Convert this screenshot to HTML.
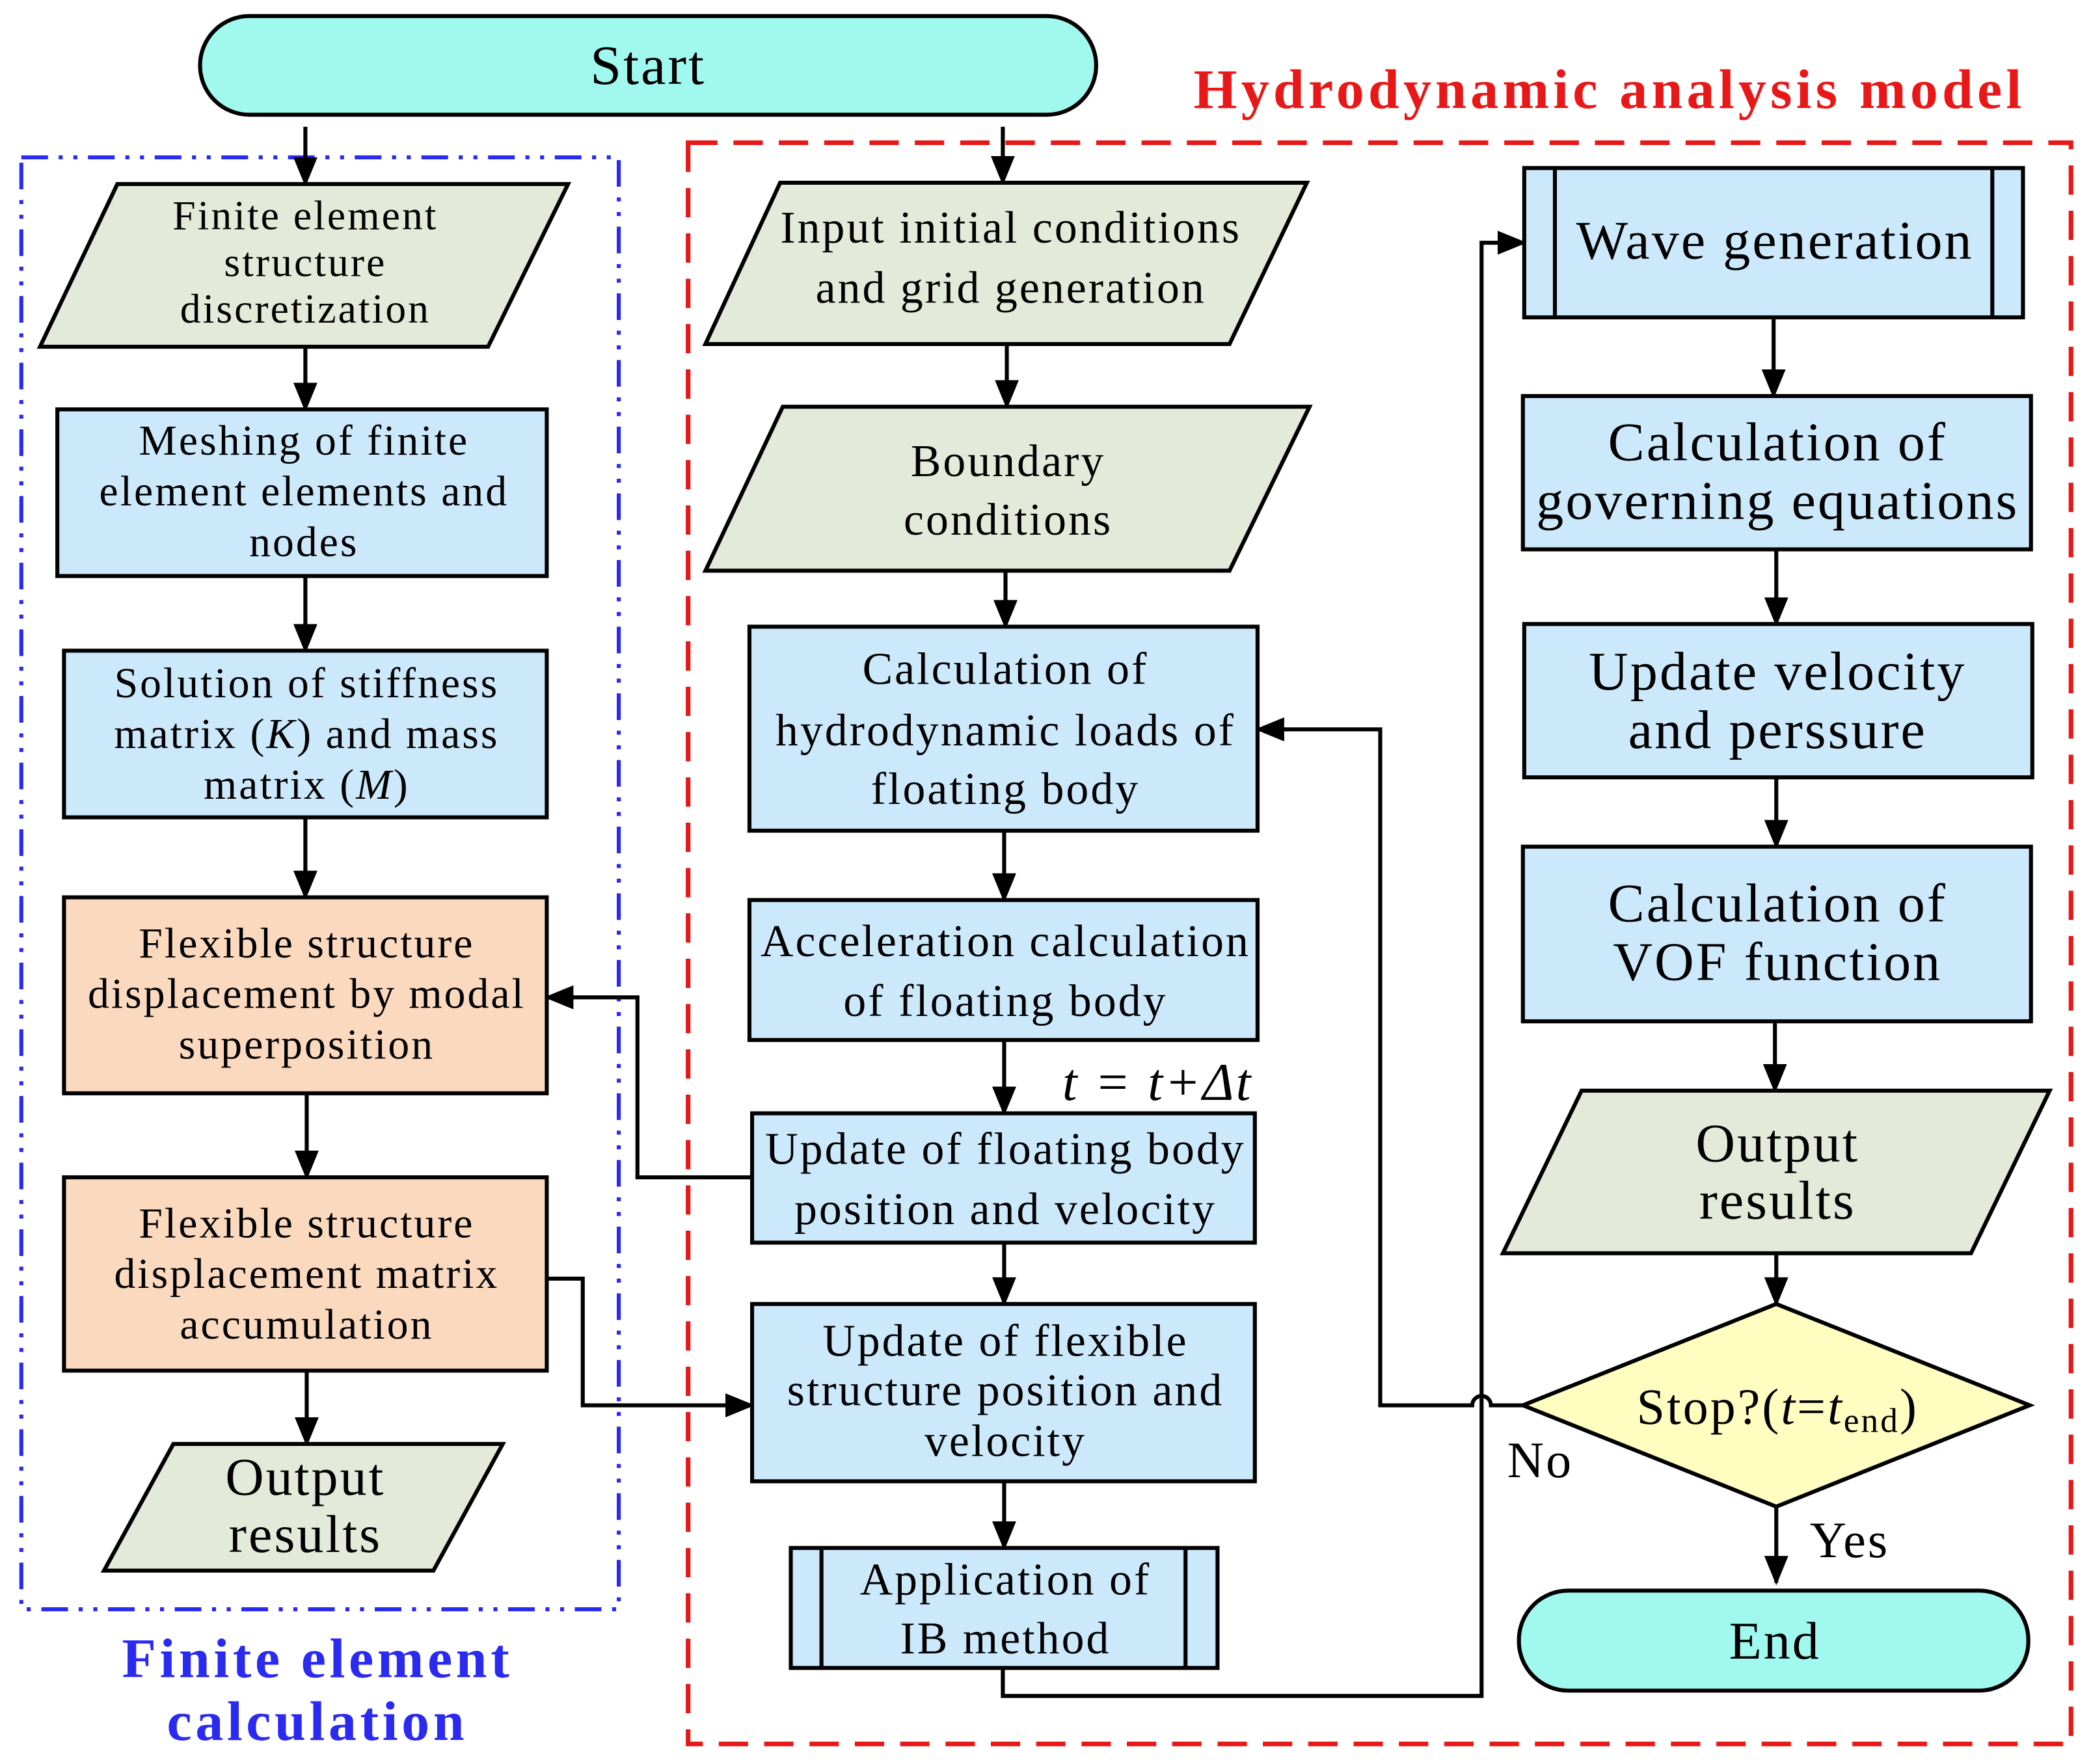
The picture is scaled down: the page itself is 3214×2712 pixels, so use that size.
<!DOCTYPE html>
<html><head><meta charset="utf-8"><style>
html,body{margin:0;padding:0;background:#fff;}
svg{display:block;}
text{font-family:"Liberation Serif",serif;fill:#000;letter-spacing:1.5px;}
</style></head><body>
<svg width="3214" height="2712" viewBox="0 0 1568 1323" xmlns="http://www.w3.org/2000/svg">
<defs>
<marker id="ah2" markerWidth="22" markerHeight="22" refX="20" refY="11" orient="auto" markerUnits="userSpaceOnUse" viewBox="0 0 22 22">
<path d="M0,2 L22,11 L0,20 z" fill="#000"/>
</marker>
</defs>
<rect width="1568" height="1323" fill="#fff"/>

<rect x="16" y="118" width="448" height="1089" fill="none" stroke="#2a2af0" stroke-width="3" stroke-dasharray="20,8,3,8,3,8"/>
<rect x="516" y="107" width="1037" height="1201" fill="none" stroke="#e81818" stroke-width="3.5" stroke-dasharray="22,12"/>
<text x="1207" y="81" font-size="42" font-weight="bold" text-anchor="middle" style="fill:#e81818;letter-spacing:3px">Hydrodynamic analysis model</text>
<text x="238" y="1258" font-size="42" font-weight="bold" text-anchor="middle" style="fill:#2a2af0;letter-spacing:2.7px">Finite element</text>
<text x="238" y="1305" font-size="42" font-weight="bold" text-anchor="middle" style="fill:#2a2af0;letter-spacing:2.7px">calculation</text>

<rect x="150" y="12" width="672" height="74" rx="37" fill="#a0f8ee" stroke="#000" stroke-width="3"/>
<text x="486" y="63" font-size="42" text-anchor="middle">Start</text>

<g stroke="#000" stroke-width="3" fill="none">
<line x1="229" y1="95" x2="229" y2="138" marker-end="url(#ah2)"/>
<line x1="229" y1="260" x2="229" y2="307" marker-end="url(#ah2)"/>
<line x1="229" y1="432" x2="229" y2="488" marker-end="url(#ah2)"/>
<line x1="229" y1="613" x2="229" y2="673" marker-end="url(#ah2)"/>
<line x1="230" y1="820" x2="230" y2="883" marker-end="url(#ah2)"/>
<line x1="230" y1="1028" x2="230" y2="1083" marker-end="url(#ah2)"/>
<line x1="752" y1="95" x2="752" y2="137" marker-end="url(#ah2)"/>
<line x1="755" y1="258" x2="755" y2="305" marker-end="url(#ah2)"/>
<line x1="754" y1="428" x2="754" y2="470" marker-end="url(#ah2)"/>
<line x1="753" y1="623" x2="753" y2="675" marker-end="url(#ah2)"/>
<line x1="753" y1="780" x2="753" y2="835" marker-end="url(#ah2)"/>
<line x1="753" y1="932" x2="753" y2="978" marker-end="url(#ah2)"/>
<line x1="753" y1="1111" x2="753" y2="1161" marker-end="url(#ah2)"/>
<polyline points="752,1251 752,1272 1111,1272 1111,182 1143,182" marker-end="url(#ah2)"/>
<line x1="1330" y1="238" x2="1330" y2="297" marker-end="url(#ah2)"/>
<line x1="1332" y1="412" x2="1332" y2="468" marker-end="url(#ah2)"/>
<line x1="1332" y1="583" x2="1332" y2="635" marker-end="url(#ah2)"/>
<line x1="1331" y1="766" x2="1331" y2="818" marker-end="url(#ah2)"/>
<line x1="1332" y1="940" x2="1332" y2="978" marker-end="url(#ah2)"/>
<line x1="1332" y1="1130" x2="1332" y2="1187" marker-end="url(#ah2)"/>
<path d="M1142,1054 L1118,1054 A7,7 0 0 0 1104,1054 L1035,1054 L1035,547 L943,547" marker-end="url(#ah2)"/>
<polyline points="564,883 478,883 478,748 410,748" marker-end="url(#ah2)"/>
<polyline points="410,959 437,959 437,1054 564,1054" marker-end="url(#ah2)"/>
</g>

<polygon points="88,138 426,138 366,260 30,260" fill="#e3ead9" stroke="#000" stroke-width="3"/>
<g font-size="31" text-anchor="middle">
<text x="229" y="172">Finite element</text>
<text x="229" y="207">structure</text>
<text x="229" y="242">discretization</text>
</g>
<rect x="43" y="307" width="367" height="125" fill="#cce9fb" stroke="#000" stroke-width="3"/>
<g font-size="32" text-anchor="middle">
<text x="228" y="341">Meshing of finite</text>
<text x="228" y="379">element elements and</text>
<text x="228" y="417">nodes</text>
</g>
<rect x="48" y="488" width="362" height="125" fill="#cce9fb" stroke="#000" stroke-width="3"/>
<g font-size="32" text-anchor="middle">
<text x="230" y="523">Solution of stiffness</text>
<text x="230" y="561">matrix (<tspan font-style="italic">K</tspan>) and mass</text>
<text x="230" y="599">matrix (<tspan font-style="italic">M</tspan>)</text>
</g>
<rect x="48" y="673" width="362" height="147" fill="#fad9bf" stroke="#000" stroke-width="3"/>
<g font-size="32" text-anchor="middle">
<text x="230" y="718">Flexible structure</text>
<text x="230" y="756">displacement by modal</text>
<text x="230" y="794">superposition</text>
</g>
<rect x="48" y="883" width="362" height="145" fill="#fad9bf" stroke="#000" stroke-width="3"/>
<g font-size="32" text-anchor="middle">
<text x="230" y="928">Flexible structure</text>
<text x="230" y="966">displacement matrix</text>
<text x="230" y="1004">accumulation</text>
</g>
<polygon points="130,1083 377,1083 325,1178 78,1178" fill="#e3ead9" stroke="#000" stroke-width="3"/>
<g font-size="40" text-anchor="middle">
<text x="229" y="1121">Output</text>
<text x="229" y="1164">results</text>
</g>

<polygon points="585,137 980,137 922,258 529,258" fill="#e3ead9" stroke="#000" stroke-width="3"/>
<g font-size="34" text-anchor="middle">
<text x="758" y="182">Input initial conditions</text>
<text x="758" y="227">and grid generation</text>
</g>
<polygon points="587,305 982,305 922,428 529,428" fill="#e3ead9" stroke="#000" stroke-width="3"/>
<g font-size="34" text-anchor="middle">
<text x="756" y="357">Boundary</text>
<text x="756" y="401">conditions</text>
</g>
<rect x="562" y="470" width="381" height="153" fill="#cce9fb" stroke="#000" stroke-width="3"/>
<g font-size="34" text-anchor="middle">
<text x="754" y="513">Calculation of</text>
<text x="754" y="559">hydrodynamic loads of</text>
<text x="754" y="603">floating body</text>
</g>
<rect x="562" y="675" width="381" height="105" fill="#cce9fb" stroke="#000" stroke-width="3"/>
<g font-size="34" text-anchor="middle">
<text x="754" y="717">Acceleration calculation</text>
<text x="754" y="762">of floating body</text>
</g>
<text x="868" y="825" font-size="40" font-style="italic" text-anchor="middle">t = t+Δt</text>
<rect x="564" y="835" width="377" height="97" fill="#cce9fb" stroke="#000" stroke-width="3"/>
<g font-size="34" text-anchor="middle">
<text x="754" y="873">Update of floating body</text>
<text x="754" y="918">position and velocity</text>
</g>
<rect x="564" y="978" width="377" height="133" fill="#cce9fb" stroke="#000" stroke-width="3"/>
<g font-size="34" text-anchor="middle">
<text x="754" y="1017">Update of flexible</text>
<text x="754" y="1054">structure position and</text>
<text x="754" y="1092">velocity</text>
</g>
<rect x="593" y="1161" width="320" height="90" fill="#cce9fb" stroke="#000" stroke-width="3"/>
<line x1="616" y1="1161" x2="616" y2="1251" stroke="#000" stroke-width="3"/>
<line x1="889" y1="1161" x2="889" y2="1251" stroke="#000" stroke-width="3"/>
<g font-size="34" text-anchor="middle">
<text x="754" y="1196">Application of</text>
<text x="754" y="1240">IB method</text>
</g>

<rect x="1143" y="126" width="374" height="112" fill="#cce9fb" stroke="#000" stroke-width="3"/>
<line x1="1166" y1="126" x2="1166" y2="238" stroke="#000" stroke-width="3"/>
<line x1="1494" y1="126" x2="1494" y2="238" stroke="#000" stroke-width="3"/>
<text x="1331" y="194" font-size="41" text-anchor="middle">Wave generation</text>
<rect x="1142" y="297" width="381" height="115" fill="#cce9fb" stroke="#000" stroke-width="3"/>
<g font-size="41" text-anchor="middle">
<text x="1333" y="345">Calculation of</text>
<text x="1333" y="389">governing equations</text>
</g>
<rect x="1143" y="468" width="381" height="115" fill="#cce9fb" stroke="#000" stroke-width="3"/>
<g font-size="41" text-anchor="middle">
<text x="1333" y="517">Update velocity</text>
<text x="1333" y="561">and perssure</text>
</g>
<rect x="1142" y="635" width="381" height="131" fill="#cce9fb" stroke="#000" stroke-width="3"/>
<g font-size="41" text-anchor="middle">
<text x="1333" y="691">Calculation of</text>
<text x="1333" y="735">VOF function</text>
</g>
<polygon points="1186,818 1537,818 1478,940 1127,940" fill="#e3ead9" stroke="#000" stroke-width="3"/>
<g font-size="41" text-anchor="middle">
<text x="1333" y="871">Output</text>
<text x="1333" y="914">results</text>
</g>
<polygon points="1332,978 1522,1054 1332,1130 1142,1054" fill="#fffdc0" stroke="#000" stroke-width="3"/>
<text x="1333" y="1068" font-size="38" text-anchor="middle">Stop?(<tspan font-style="italic">t</tspan>=<tspan font-style="italic">t</tspan><tspan font-size="26" dy="6">end</tspan><tspan dy="-6">)</tspan></text>
<text x="1155" y="1108" font-size="38" text-anchor="middle">No</text>
<text x="1387" y="1168" font-size="38" text-anchor="middle">Yes</text>
<rect x="1139" y="1193" width="382" height="75" rx="37" fill="#a0f8ee" stroke="#000" stroke-width="3"/>
<text x="1331" y="1244" font-size="40" text-anchor="middle">End</text>
</svg>
</body></html>
